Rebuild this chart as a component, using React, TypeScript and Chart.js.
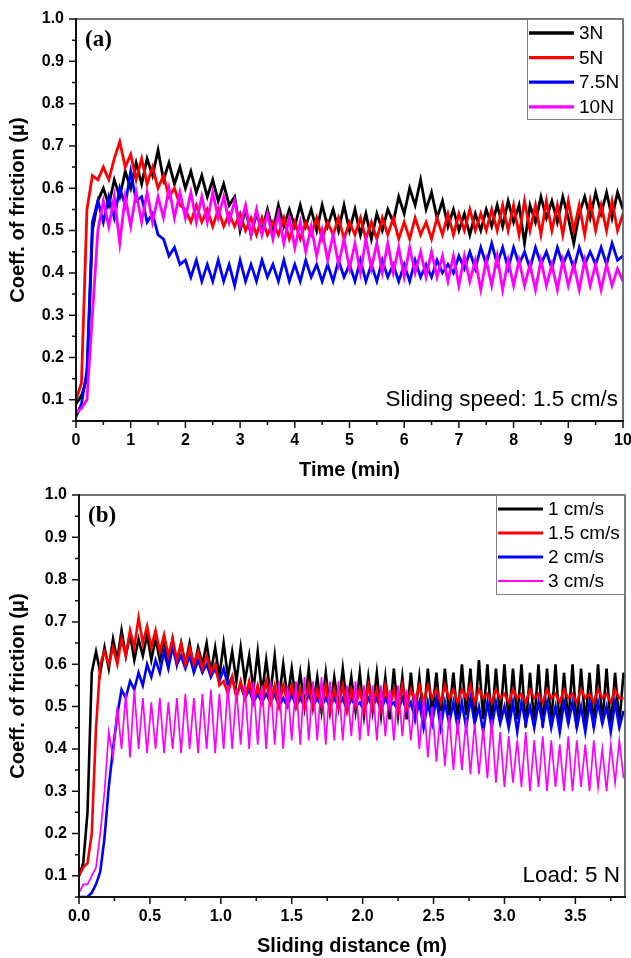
import React, { useEffect, useRef } from "react";
import { Chart, registerables } from "chart.js";

Chart.register(...registerables);

// ---------- categories / labels ----------
const loadLabels = ["3N", "5N", "7.5N", "10N"];
const speedLabels = ["1 cm/s", "1.5 cm/s", "2 cm/s", "3 cm/s"];
const seriesColors = ["#000000", "#ff0000", "#0000ff", "#ff00ff"];

// sampling intervals of the recorded curves
const timeStepMin = 0.1; // panel (a), minutes
const distanceStepM = 0.03; // panel (b), metres

// ---------- panel (a): coefficient of friction vs time (sliding speed 1.5 cm/s) ----------
const cof3N = [
  0.09, 0.11, 0.15, 0.5, 0.57, 0.6, 0.56, 0.62, 0.58, 0.64,
  0.6, 0.66, 0.61, 0.67, 0.63, 0.69, 0.62, 0.66, 0.61, 0.65,
  0.6, 0.64, 0.59, 0.63, 0.58, 0.62, 0.57, 0.61, 0.56, 0.58,
  0.5, 0.55, 0.49, 0.54, 0.5, 0.55, 0.5, 0.56, 0.51, 0.55,
  0.51, 0.56, 0.51, 0.55, 0.5, 0.56, 0.51, 0.55, 0.5, 0.56,
  0.5, 0.55, 0.49, 0.54, 0.48, 0.54, 0.5, 0.55, 0.52, 0.58,
  0.54, 0.6, 0.56, 0.62, 0.55, 0.59, 0.53, 0.57, 0.51, 0.55,
  0.5, 0.54, 0.49, 0.54, 0.5, 0.55, 0.51, 0.56, 0.51, 0.57,
  0.52, 0.56, 0.47, 0.56, 0.52, 0.58, 0.53, 0.57, 0.52, 0.58,
  0.53, 0.47, 0.54, 0.58, 0.53, 0.59, 0.54, 0.59, 0.53, 0.59,
  0.55,
];
const cof5N = [
  0.1, 0.14, 0.55, 0.63, 0.62, 0.65, 0.62, 0.67, 0.71, 0.65,
  0.68, 0.62, 0.67, 0.61, 0.65, 0.6, 0.63, 0.58, 0.6, 0.56,
  0.55, 0.52, 0.56, 0.52, 0.55, 0.51, 0.55, 0.51, 0.54, 0.51,
  0.54, 0.5, 0.53, 0.49, 0.53, 0.49, 0.52, 0.49, 0.53, 0.48,
  0.52, 0.48, 0.52, 0.49, 0.53, 0.48, 0.52, 0.49, 0.53, 0.48,
  0.52, 0.49, 0.53, 0.48, 0.52, 0.48, 0.53, 0.49, 0.53, 0.48,
  0.52, 0.48, 0.53, 0.49, 0.52, 0.48, 0.53, 0.49, 0.54, 0.49,
  0.54, 0.5, 0.55, 0.5, 0.54, 0.5, 0.55, 0.5, 0.56, 0.5,
  0.56, 0.49, 0.57, 0.5, 0.56, 0.49, 0.57, 0.5, 0.56, 0.49,
  0.57, 0.5, 0.56, 0.49, 0.57, 0.5, 0.56, 0.5, 0.57, 0.5,
  0.54,
];
const cof7_5N = [
  0.06, 0.09, 0.17, 0.52, 0.57, 0.52, 0.58, 0.53, 0.6, 0.56,
  0.64, 0.57, 0.58, 0.52, 0.54, 0.49, 0.48, 0.44, 0.46, 0.42,
  0.43, 0.39, 0.43, 0.38, 0.42, 0.38, 0.43, 0.38, 0.42, 0.37,
  0.43, 0.38, 0.42, 0.38, 0.43, 0.39, 0.42, 0.38, 0.43, 0.38,
  0.42, 0.38, 0.43, 0.39, 0.42, 0.38, 0.42, 0.38, 0.43, 0.39,
  0.42, 0.38, 0.43, 0.38, 0.42, 0.38, 0.43, 0.39, 0.42, 0.38,
  0.42, 0.38, 0.43, 0.39, 0.42, 0.39, 0.43, 0.4, 0.42, 0.4,
  0.44, 0.41, 0.45, 0.41, 0.46, 0.42, 0.47, 0.42, 0.46, 0.41,
  0.46, 0.42, 0.45, 0.41, 0.46, 0.42, 0.45, 0.41, 0.46, 0.42,
  0.45, 0.41, 0.46, 0.42, 0.45, 0.42, 0.46, 0.42, 0.47, 0.43,
  0.44,
];
const cof10N = [
  0.07, 0.08, 0.1, 0.3, 0.5, 0.57, 0.51, 0.58, 0.47, 0.58,
  0.51, 0.59, 0.52, 0.59, 0.52, 0.58, 0.53, 0.6, 0.53, 0.59,
  0.53, 0.59, 0.52, 0.58, 0.52, 0.59, 0.53, 0.58, 0.52, 0.57,
  0.51, 0.56, 0.49, 0.55, 0.49, 0.54, 0.48, 0.54, 0.47, 0.53,
  0.46, 0.52, 0.45, 0.51, 0.44, 0.5, 0.43, 0.49, 0.42, 0.48,
  0.41, 0.47, 0.4, 0.48, 0.41, 0.47, 0.4, 0.47, 0.4, 0.46,
  0.39, 0.46, 0.4, 0.45, 0.39, 0.45, 0.39, 0.44, 0.38, 0.44,
  0.37, 0.44, 0.38, 0.43, 0.36, 0.43, 0.37, 0.44, 0.36, 0.43,
  0.37, 0.43, 0.37, 0.42, 0.36, 0.43, 0.37, 0.42, 0.36, 0.43,
  0.37, 0.42, 0.36, 0.43, 0.37, 0.42, 0.36, 0.42, 0.37, 0.41,
  0.38,
];

// ---------- panel (b): coefficient of friction vs sliding distance (load 5 N) ----------
const cof1cms = [
  0.1, 0.13, 0.25, 0.58, 0.63, 0.58, 0.64, 0.59, 0.66, 0.61,
  0.68, 0.62, 0.67, 0.61, 0.66, 0.62, 0.67, 0.61, 0.66, 0.61,
  0.66, 0.6, 0.66, 0.6, 0.65, 0.6, 0.65, 0.59, 0.64, 0.6,
  0.65, 0.58, 0.64, 0.57, 0.65, 0.57, 0.63, 0.56, 0.64, 0.56,
  0.62, 0.54, 0.63, 0.53, 0.61, 0.53, 0.62, 0.52, 0.6, 0.52,
  0.59, 0.51, 0.58, 0.5, 0.59, 0.5, 0.57, 0.49, 0.58, 0.49,
  0.57, 0.5, 0.59, 0.5, 0.57, 0.49, 0.58, 0.48, 0.57, 0.49,
  0.58, 0.48, 0.57, 0.47, 0.59, 0.48, 0.57, 0.47, 0.58, 0.48,
  0.57, 0.47, 0.59, 0.48, 0.58, 0.47, 0.59, 0.48, 0.58, 0.47,
  0.6, 0.48, 0.59, 0.46, 0.61, 0.47, 0.6, 0.46, 0.59, 0.47,
  0.6, 0.46, 0.59, 0.47, 0.6, 0.45, 0.58, 0.46, 0.6, 0.45,
  0.59, 0.46, 0.6, 0.45, 0.58, 0.46, 0.6, 0.45, 0.59, 0.46,
  0.58, 0.45, 0.6, 0.46, 0.59, 0.45, 0.58, 0.46, 0.58,
];
const cof1_5cms = [
  0.1, 0.12, 0.13, 0.2, 0.45, 0.6, 0.63, 0.6, 0.64, 0.6,
  0.66, 0.62, 0.68, 0.64, 0.71, 0.65, 0.69, 0.64, 0.68, 0.63,
  0.67, 0.62, 0.66, 0.61, 0.65, 0.6, 0.64, 0.6, 0.63, 0.59,
  0.62, 0.58, 0.6, 0.55, 0.56, 0.53, 0.57, 0.52, 0.56, 0.52,
  0.56, 0.51, 0.55, 0.51, 0.56, 0.51, 0.55, 0.5, 0.55, 0.51,
  0.55, 0.5, 0.54, 0.5, 0.55, 0.5, 0.54, 0.5, 0.55, 0.49,
  0.54, 0.5, 0.55, 0.49, 0.54, 0.5, 0.54, 0.49, 0.55, 0.5,
  0.54, 0.49, 0.55, 0.5, 0.54, 0.49, 0.55, 0.5, 0.54, 0.51,
  0.55, 0.51, 0.55, 0.52, 0.54, 0.51, 0.55, 0.52, 0.54, 0.51,
  0.54, 0.52, 0.55, 0.51, 0.54, 0.52, 0.53, 0.51, 0.54, 0.52,
  0.53, 0.51, 0.54, 0.52, 0.53, 0.51, 0.54, 0.52, 0.53, 0.51,
  0.54, 0.52, 0.53, 0.51, 0.54, 0.52, 0.53, 0.51, 0.54, 0.52,
  0.53, 0.51, 0.54, 0.52, 0.53, 0.51, 0.54, 0.52, 0.52,
];
const cof2cms = [
  0.05, 0.05, 0.05, 0.06, 0.08, 0.11, 0.19, 0.31, 0.4, 0.48,
  0.54, 0.52, 0.56, 0.54, 0.58, 0.55, 0.6, 0.57, 0.61, 0.58,
  0.63, 0.59, 0.64, 0.6, 0.62, 0.59, 0.62, 0.58, 0.61, 0.58,
  0.6, 0.57, 0.59, 0.56, 0.59, 0.55, 0.57, 0.53, 0.55, 0.52,
  0.54, 0.51, 0.53, 0.51, 0.53, 0.51, 0.53, 0.5, 0.52, 0.5,
  0.53, 0.5, 0.52, 0.5, 0.53, 0.5, 0.52, 0.5, 0.52, 0.5,
  0.52, 0.5, 0.52, 0.49, 0.52, 0.5, 0.51, 0.49, 0.52, 0.5,
  0.52, 0.49, 0.52, 0.5, 0.51, 0.49, 0.52, 0.49, 0.51, 0.47,
  0.51, 0.45, 0.51, 0.46, 0.52, 0.45, 0.51, 0.46, 0.51, 0.45,
  0.51, 0.45, 0.52, 0.46, 0.5, 0.44, 0.51, 0.45, 0.51, 0.46,
  0.5, 0.45, 0.51, 0.44, 0.51, 0.46, 0.5, 0.45, 0.51, 0.46,
  0.51, 0.45, 0.5, 0.44, 0.51, 0.46, 0.51, 0.45, 0.5, 0.44,
  0.51, 0.45, 0.51, 0.46, 0.5, 0.44, 0.51, 0.45, 0.49,
];
const cof3cms = [
  0.06, 0.08, 0.08, 0.1, 0.12, 0.2, 0.3, 0.44, 0.38, 0.5,
  0.4, 0.53, 0.38, 0.54, 0.4, 0.52, 0.39, 0.51, 0.4, 0.52,
  0.39, 0.51, 0.4, 0.52, 0.39, 0.53, 0.4, 0.52, 0.39, 0.53,
  0.4, 0.54, 0.39, 0.53, 0.4, 0.55, 0.4, 0.54, 0.41, 0.55,
  0.4, 0.56, 0.41, 0.55, 0.4, 0.56, 0.41, 0.56, 0.4, 0.55,
  0.42, 0.56, 0.41, 0.57, 0.42, 0.56, 0.42, 0.57, 0.41, 0.56,
  0.42, 0.56, 0.42, 0.55, 0.43, 0.56, 0.42, 0.55, 0.43, 0.55,
  0.42, 0.55, 0.43, 0.54, 0.42, 0.55, 0.43, 0.54, 0.42, 0.53,
  0.4, 0.52, 0.38, 0.5, 0.37, 0.49, 0.36, 0.48, 0.35, 0.47,
  0.35, 0.47, 0.34, 0.46, 0.34, 0.45, 0.33, 0.47, 0.32, 0.44,
  0.31, 0.43, 0.32, 0.42, 0.31, 0.44, 0.3, 0.42, 0.31, 0.43,
  0.3, 0.42, 0.31, 0.41, 0.3, 0.43, 0.3, 0.42, 0.31, 0.41,
  0.3, 0.42, 0.31, 0.4, 0.3, 0.41, 0.32, 0.42, 0.33,
];

// ---------- tick values ----------
const timeTicks = [0, 1, 2, 3, 4, 5, 6, 7, 8, 9, 10];
const timeMinorTicks = [0.5, 1.5, 2.5, 3.5, 4.5, 5.5, 6.5, 7.5, 8.5, 9.5];
const distanceTicks = [0, 0.5, 1.0, 1.5, 2.0, 2.5, 3.0, 3.5];
const distanceMinorTicks = [0.25, 0.75, 1.25, 1.75, 2.25, 2.75, 3.25, 3.75];
const frictionTicks = [0.1, 0.2, 0.3, 0.4, 0.5, 0.6, 0.7, 0.8, 0.9, 1.0];
const frictionMinorTicks = [0.05, 0.15, 0.25, 0.35, 0.45, 0.55, 0.65, 0.75, 0.85, 0.95];

const SANS = "Arial, 'Liberation Sans', Helvetica, sans-serif";
const SERIF = "'Times New Roman', 'Liberation Serif', serif";

type PanelSpec = {
  series: number[][];
  labels: string[];
  step: number;
  widths: number[];
  orders: number[];
  xMax: number;
  xTicks: number[];
  xMinor: number[];
  xFmt: (v: number) => string;
  xTitle: string;
  tag: string;
  note: string;
  canvasH: number;
  pad: { top: number; right: number };
  yAxisW: number;
  xAxisH: number;
  yTitleX: number;
  yTitleShift: number;
  xTitleY: number;
  legend: { left: number; bottom: number; row0: number; rowGap: number; lineX0: number; lineX1: number; textX: number };
};

function buildConfig(p: PanelSpec): any {
  const datasets = p.series.map((ys, k) => ({
    label: p.labels[k],
    data: ys.map((y, i) => ({ x: +(i * p.step).toFixed(3), y })),
    borderColor: seriesColors[k],
    backgroundColor: seriesColors[k],
    borderWidth: p.widths[k],
    pointRadius: 0,
    tension: 0,
    fill: false,
    order: p.orders[k],
  }));

  const decor = {
    id: "decor",
    afterDraw(chart: any) {
      const ctx = chart.ctx as CanvasRenderingContext2D;
      const a = chart.chartArea;
      const xs = chart.scales.x;
      const ys = chart.scales.y;
      ctx.save();
      // frame
      ctx.lineCap = "square";
      ctx.strokeStyle = "#444";
      ctx.lineWidth = 1.5;
      ctx.beginPath();
      ctx.moveTo(a.left, a.top);
      ctx.lineTo(a.right, a.top);
      ctx.lineTo(a.right, a.bottom);
      ctx.stroke();
      ctx.strokeStyle = "#111";
      ctx.lineWidth = 2;
      ctx.beginPath();
      ctx.moveTo(a.left, a.top);
      ctx.lineTo(a.left, a.bottom);
      ctx.lineTo(a.right, a.bottom);
      ctx.stroke();
      // ticks
      ctx.lineCap = "butt";
      ctx.lineWidth = 1.5;
      ctx.beginPath();
      p.xTicks.forEach((v) => {
        const px = xs.getPixelForValue(v);
        ctx.moveTo(px, a.bottom);
        ctx.lineTo(px, a.bottom + 7);
      });
      p.xMinor.forEach((v) => {
        const px = xs.getPixelForValue(v);
        ctx.moveTo(px, a.bottom);
        ctx.lineTo(px, a.bottom + 4);
      });
      frictionTicks.forEach((v) => {
        const py = ys.getPixelForValue(v);
        ctx.moveTo(a.left, py);
        ctx.lineTo(a.left - 7, py);
      });
      frictionMinorTicks.forEach((v) => {
        const py = ys.getPixelForValue(v);
        ctx.moveTo(a.left, py);
        ctx.lineTo(a.left - 4, py);
      });
      ctx.stroke();

      // axis titles
      ctx.fillStyle = "#000";
      ctx.font = `bold 20px ${SANS}`;
      ctx.textAlign = "center";
      ctx.textBaseline = "middle";
      ctx.fillText(p.xTitle, (a.left + a.right) / 2, p.xTitleY);
      ctx.save();
      ctx.translate(p.yTitleX, (a.top + a.bottom) / 2 + p.yTitleShift);
      ctx.rotate(-Math.PI / 2);
      ctx.fillText("Coeff. of friction (\u03bc)", 0, 0);
      ctx.restore();

      // panel tag
      ctx.font = `bold 23px ${SERIF}`;
      ctx.textAlign = "left";
      ctx.fillText(p.tag, a.left + 9, a.top + 21);

      // note
      ctx.font = `22.5px ${SANS}`;
      ctx.textAlign = "right";
      ctx.textBaseline = "alphabetic";
      ctx.fillText(p.note, a.right - 5, a.bottom - 15);

      // legend
      const L = p.legend;
      ctx.fillStyle = "#fff";
      ctx.fillRect(L.left, a.top, a.right - L.left, L.bottom - a.top);
      ctx.strokeStyle = "#808080";
      ctx.lineWidth = 1;
      ctx.strokeRect(L.left + 0.5, a.top + 0.5, a.right - L.left - 1, L.bottom - a.top - 1);
      ctx.font = `19px ${SANS}`;
      ctx.textAlign = "left";
      ctx.textBaseline = "middle";
      chart.data.datasets.forEach((ds: any, k: number) => {
        const y = a.top + L.row0 + k * L.rowGap;
        ctx.strokeStyle = ds.borderColor;
        ctx.lineWidth = ds.borderWidth + 0.5;
        ctx.beginPath();
        ctx.moveTo(L.lineX0, y);
        ctx.lineTo(L.lineX1, y);
        ctx.stroke();
        ctx.fillStyle = "#000";
        ctx.fillText(ds.label, L.textX, y + 1);
      });
      ctx.restore();
    },
  };

  return {
    type: "line",
    data: { datasets },
    plugins: [decor],
    options: {
      animation: false,
      responsive: false,
      maintainAspectRatio: false,
      layout: { padding: { left: 0, top: p.pad.top, right: p.pad.right, bottom: 0 } },
      plugins: { legend: { display: false }, tooltip: { enabled: false }, title: { display: false } },
      elements: { point: { radius: 0 }, line: { tension: 0 } },
      scales: {
        x: {
          type: "linear",
          min: 0,
          max: p.xMax,
          grid: { display: false, drawTicks: false },
          border: { display: false },
          afterBuildTicks: (s: any) => {
            s.ticks = p.xTicks.map((v) => ({ value: v }));
          },
          afterFit: (s: any) => {
            s.height = p.xAxisH;
            s.paddingLeft = 0;
            s.paddingRight = 0;
          },
          ticks: {
            padding: 10,
            color: "#000",
            maxRotation: 0,
            autoSkip: false,
            font: { family: SANS, size: 16, weight: "bold" },
            callback: (v: any) => p.xFmt(Number(v)),
          },
        },
        y: {
          type: "linear",
          min: 0.05,
          max: 1.0,
          grid: { display: false, drawTicks: false },
          border: { display: false },
          afterBuildTicks: (s: any) => {
            s.ticks = frictionTicks.map((v) => ({ value: v }));
          },
          afterFit: (s: any) => {
            s.width = p.yAxisW;
            s.paddingTop = 0;
            s.paddingBottom = 0;
          },
          ticks: {
            padding: 12,
            color: "#000",
            autoSkip: false,
            font: { family: SANS, size: 16, weight: "bold" },
            callback: (v: any) => Number(v).toFixed(1),
          },
        },
      },
    },
  };
}

const panelA: PanelSpec = {
  series: [cof3N, cof5N, cof7_5N, cof10N],
  labels: loadLabels,
  step: timeStepMin,
  widths: [2.8, 2.8, 2.8, 2.8],
  orders: [4, 3, 2, 1],
  xMax: 10,
  xTicks: timeTicks,
  xMinor: timeMinorTicks,
  xFmt: (v) => String(v),
  xTitle: "Time (min)",
  tag: "(a)",
  note: "Sliding speed: 1.5 cm/s",
  canvasH: 479,
  pad: { top: 19, right: 8 },
  yAxisW: 76,
  xAxisH: 58,
  yTitleX: 18,
  yTitleShift: -10,
  xTitleY: 470,
  legend: { left: 527, bottom: 120, row0: 14, rowGap: 24.6, lineX0: 529, lineX1: 574, textX: 579 },
};

const panelB: PanelSpec = {
  series: [cof1cms, cof1_5cms, cof2cms, cof3cms],
  labels: speedLabels,
  step: distanceStepM,
  widths: [2.6, 2.6, 2.6, 1.7],
  orders: [4, 2, 3, 1],
  xMax: 3.85,
  xTicks: distanceTicks,
  xMinor: distanceMinorTicks,
  xFmt: (v) => v.toFixed(1),
  xTitle: "Sliding distance (m)",
  tag: "(b)",
  note: "Load: 5 N",
  canvasH: 479,
  pad: { top: 16, right: 6 },
  yAxisW: 79,
  xAxisH: 61,
  yTitleX: 18,
  yTitleShift: -10,
  xTitleY: 467,
  legend: { left: 496, bottom: 116, row0: 14, rowGap: 24, lineX0: 498, lineX1: 543, textX: 548 },
};

function Panel({ spec, top }: { spec: PanelSpec; top: number }) {
  const ref = useRef<HTMLCanvasElement | null>(null);
  useEffect(() => {
    if (!ref.current) return;
    const chart = new Chart(ref.current, buildConfig(spec));
    return () => chart.destroy();
  }, [spec]);
  return (
    <canvas
      ref={ref}
      width={631}
      height={spec.canvasH}
      style={{ position: "absolute", left: 0, top, width: 631, height: spec.canvasH, display: "block" }}
    />
  );
}

export default function App() {
  return (
    <div style={{ position: "absolute", left: 0, top: 0, width: 631, height: 958, background: "#fff", overflow: "hidden" }}>
      <Panel spec={panelA} top={0} />
      <Panel spec={panelB} top={479} />
    </div>
  );
}
